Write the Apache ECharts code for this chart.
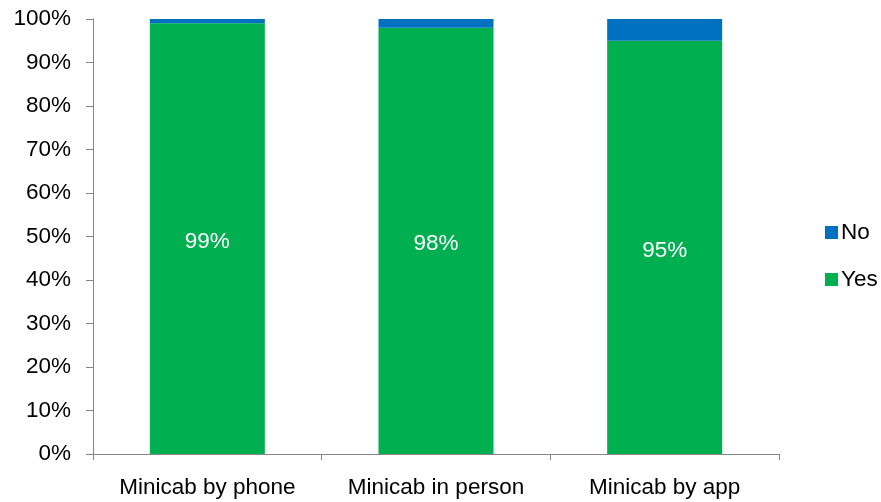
<!DOCTYPE html>
<html>
<head>
<meta charset="utf-8">
<script src="https://cdn.jsdelivr.net/npm/echarts@6/dist/echarts.min.js"></script>
<style>html,body{margin:0;padding:0;background:#fff}#c{width:881px;height:502px}</style>
</head>
<body>
<div id="c"></div>
<script>
const categories = ["Minicab by phone", "Minicab in person", "Minicab by app"];
const yesValues = [99, 98, 95];
const noValues = [1, 2, 5];
const yTicks = [0, 10, 20, 30, 40, 50, 60, 70, 80, 90, 100];

const FONT = "Liberation Sans";
const FS = 22.5;
const chart = echarts.init(document.getElementById('c'));
chart.setOption({
  animation: false,
  textStyle: { fontFamily: FONT },
  grid: { left: 93, right: 102, top: 19, bottom: 48 },
  legend: {
    orient: 'vertical',
    left: 820, top: 216,
    itemWidth: 13, itemHeight: 13, itemGap: 24,
    icon: 'rect',
    data: ['No', 'Yes'],
    textStyle: { fontFamily: FONT, fontSize: FS, color: '#000', padding: [0,0,0,-2] }
  },
  xAxis: {
    type: 'category',
    data: categories,
    axisLine: { lineStyle: { color: '#868686', width: 1 } },
    axisTick: { show: true, interval: 0, length: 6, lineStyle: { color: '#868686' } },
    axisLabel: { color: '#000', fontSize: FS, margin: 22, fontFamily: FONT, interval: 0, hideOverlap: false }
  },
  yAxis: {
    type: 'value', min: 0, max: 100, interval: 10,
    splitLine: { show: false },
    axisLine: { show: true, lineStyle: { color: '#868686', width: 1 } },
    axisTick: { show: true, length: 7, lineStyle: { color: '#868686' } },
    axisLabel: { color: '#000', fontSize: FS, margin: 22, fontFamily: FONT,
      formatter: v => yTicks.includes(v) ? v + '%' : '' }
  },
  series: [
    { name: 'Yes', type: 'bar', stack: 't', data: yesValues, barWidth: 115,
      itemStyle: { color: '#00B050' },
      label: { show: true, position: 'inside', offset: [0, 3], color: '#fff', fontSize: FS, fontFamily: FONT, formatter: p => p.value + '%' } },
    { name: 'No', type: 'bar', stack: 't', data: noValues, barWidth: 115,
      itemStyle: { color: '#0070C0' } }
  ]
});
</script>
</body>
</html>
